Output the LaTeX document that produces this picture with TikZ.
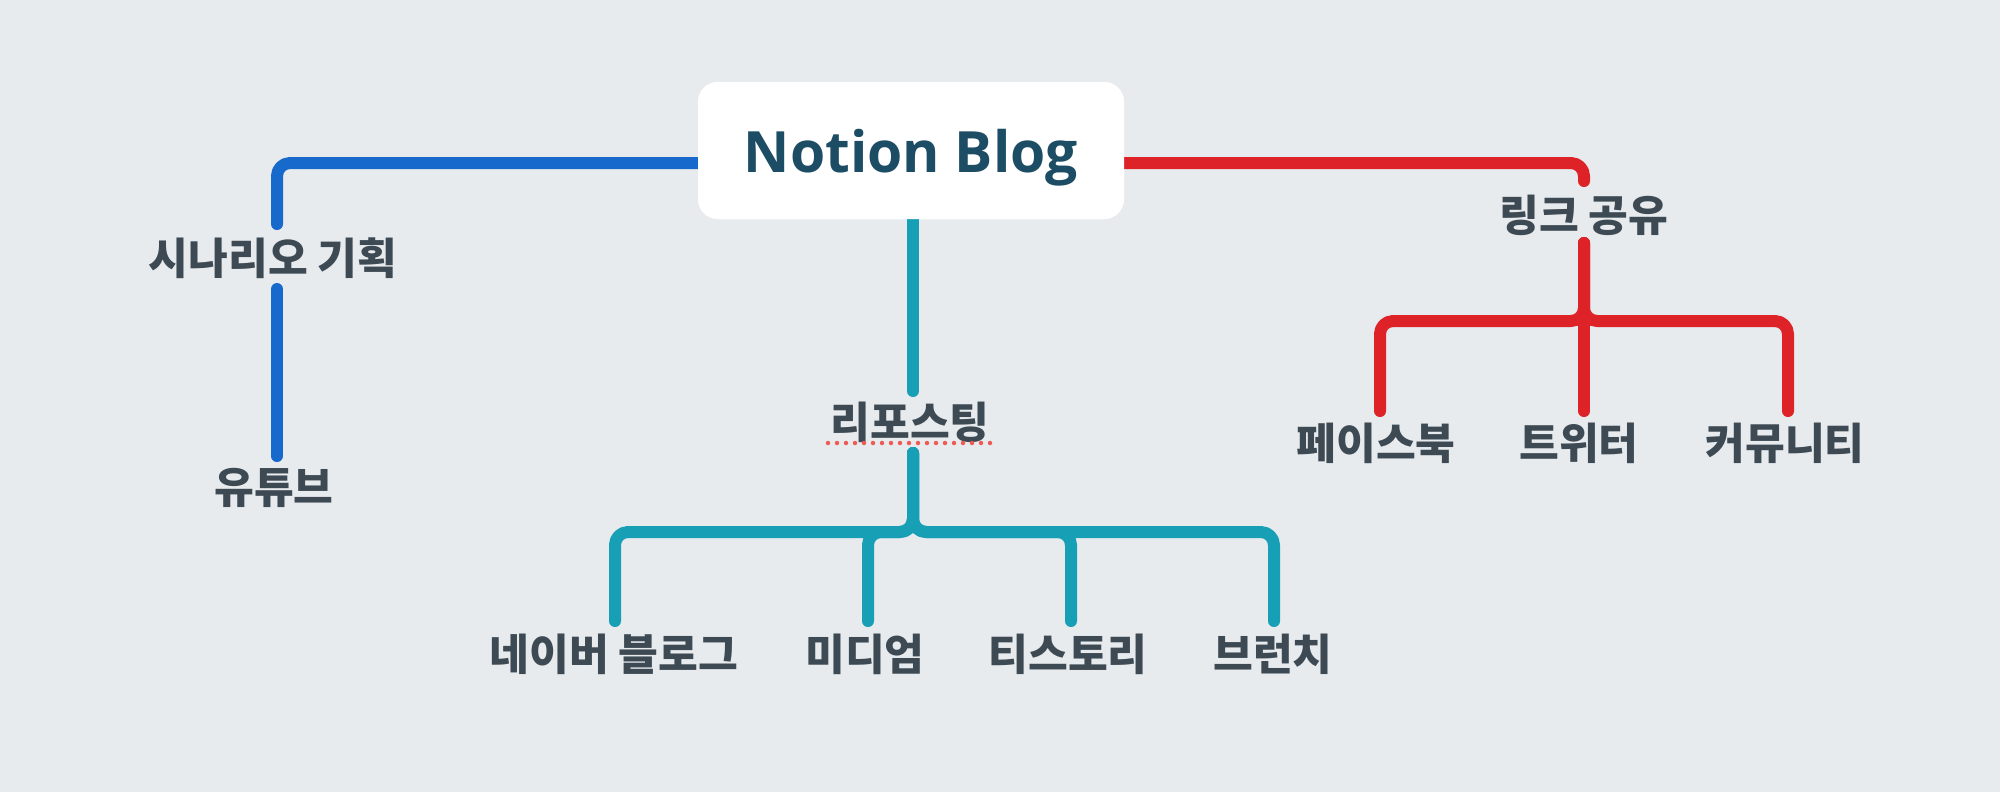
\documentclass[tikz,border=0pt]{standalone}
\usepackage{fontspec}
\setmainfont{Noto Sans CJK KR}
\newfontfamily\krheavy{Noto Sans CJK KR Black}
\newfontfamily\titlefont{Open Sans}
\usetikzlibrary{calc}
\definecolor{bgc}{HTML}{E8EBEE}
\definecolor{bluec}{HTML}{1769CC}
\definecolor{redc}{HTML}{DD2228}
\definecolor{tealc}{HTML}{179FB5}
\definecolor{labelc}{HTML}{3D4A54}
\definecolor{titlec}{HTML}{1C4D64}
\definecolor{dotc}{HTML}{EE5B55}
\tikzset{
  lbl/.style={font=\krheavy\fontsize{12.3}{14}\selectfont, text=labelc, inner sep=0pt, anchor=center},
  rootbox/.style={fill=white, rounded corners=2mm, minimum width=42.6mm, minimum height=13.7mm,
     inner sep=0pt, text height=5mm, text depth=0.7mm, text=titlec,
     font=\titlefont\bfseries\fontsize{16.2}{18}\selectfont},
  conn/.style={line width=1.2mm, line cap=round, line join=round, rounded corners=1.3mm},
  squiggle/.style={dotc, line width=0.45mm, line cap=round, dash pattern=on 0mm off 0.9mm}
}
\begin{document}
\begin{tikzpicture}[x=0.1mm,y=-0.1mm]
\fill[bgc] (0,0) rectangle (2000,792);
\useasboundingbox (0,0) rectangle (2000,792);

% nodes
\node[rootbox] (root) at (911,150.5) {Notion Blog};
\node[lbl] (sc) at (273,258) {시나리오 기획};
\node[lbl] (yt) at (274,488) {유튜브};
\node[lbl] (lk) at (1584,215) {링크 공유};
\node[lbl] (fb) at (1376,443) {페이스북};
\node[lbl] (tw) at (1579,443) {트위터};
\node[lbl] (cm) at (1785,443) {커뮤니티};
\node[lbl] (rp) at (910,422) {리포스팅};
\node[lbl] (nb) at (614,654) {네이버 블로그};
\node[lbl] (md) at (865,654) {미디엄};
\node[lbl] (ts) at (1068,654) {티스토리};
\node[lbl] (br) at (1273,654) {브런치};

% helper coordinates
\coordinate (scT) at ($(sc.center)+(4,-34)$);
\coordinate (scB) at ($(sc.center)+(4,31)$);
\coordinate (ytT) at ($(yt.center)+(3,-32)$);
\coordinate (lkT) at ($(lk.center)+(0,-34)$);
\coordinate (lkB) at ($(lk.center)+(0,28)$);
\coordinate (rj)  at ($(lk.center)+(0,106)$);
\coordinate (fbT) at ($(fb.center)+(4,-32)$);
\coordinate (twT) at ($(tw.center)+(5,-32)$);
\coordinate (cmT) at ($(cm.center)+(3,-32)$);
\coordinate (rpT) at ($(rp.center)+(3,-31)$);
\coordinate (rpB) at ($(rp.center)+(3,31)$);
\coordinate (tj)  at ($(rp.center)+(3,110)$);
\coordinate (nbT) at ($(nb.center)+(1,-33)$);
\coordinate (mdT) at ($(md.center)+(3,-33)$);
\coordinate (tsT) at ($(ts.center)+(3,-33)$);
\coordinate (brT) at ($(br.center)+(1,-33)$);

% blue branch
\draw[conn, bluec] ([yshift=-1.25mm]root.west) -| (scT);
\draw[conn, bluec] (scB) -- (ytT);

% red branch
\draw[conn, redc] ([yshift=-1.25mm]root.east) -| (lkT);
\draw[conn, redc] (lkB) -- (rj) -| (fbT);
\draw[conn, redc] (lkB) -- (rj) -| (cmT);
\draw[conn, redc] (lkB) -- (twT);

% teal branch
\draw[conn, tealc] (rpT |- root.south) -- (rpT);
\draw[conn, tealc] (rpB) -- (tj) -| (nbT);
\draw[conn, tealc] (rpB) -- (tj) -| (mdT);
\draw[conn, tealc] (rpB) -- (tj) -| (tsT);
\draw[conn, tealc] (rpB) -- (tj) -| (brT);

% spell-check underline
\draw[squiggle] ($(rp.center)+(-82,21)$) -- ($(rp.center)+(80,21)$);

% redraw root on top
\node[rootbox] at (root.center) {Notion Blog};
\end{tikzpicture}
\end{document}
